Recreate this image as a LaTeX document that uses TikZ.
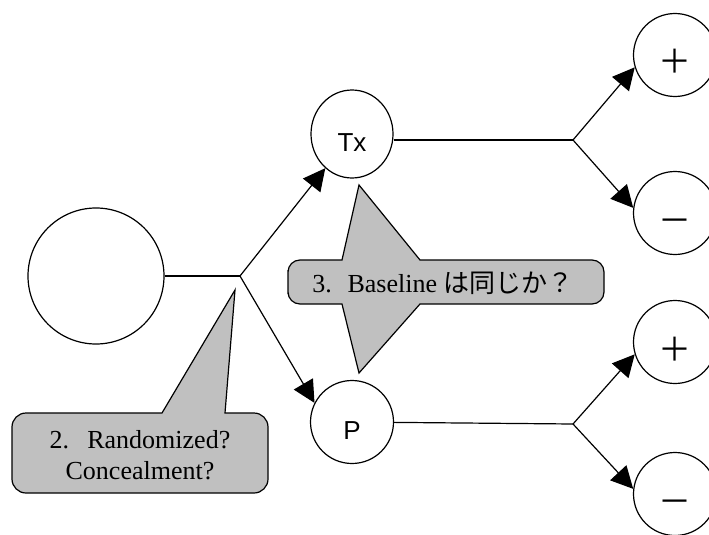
\documentclass[tikz,border=0pt]{standalone}
\usepackage{fontspec}
\setmainfont{Liberation Serif}
\setsansfont{Liberation Sans}
\newfontfamily\jpfont{Noto Sans CJK JP}
\usetikzlibrary{arrows.meta,positioning,calc,shapes.geometric}
\definecolor{calloutgray}{RGB}{192,192,192}

\begin{document}
\begin{tikzpicture}[->,>={Triangle[length=22pt,width=22pt]},x=1pt,y=-1pt,
			line width=1.2pt]
			\tikzstyle{chance}=[circle,draw=black,fill=white,inner sep=0pt,minimum size=83pt,text height=34pt,text depth=0pt,font=\sffamily\fontsize{26}{30}\selectfont]
			\tikzstyle{outcome}=[chance,text height=38pt,font=\jpfont\fontsize{33}{36}\selectfont]
			\tikzstyle{bubble}=[-,draw=black,fill=calloutgray]
			\tikzstyle{bubbletext}=[align=center,font=\rmfamily\fontsize{26}{31}\selectfont]
			
			\useasboundingbox (0,0) rectangle (709,535);
			
			\node[chance, minimum size=136pt]    (root)  at (96,276)   {};
			
			\coordinate (b0) at (240,276);
			
			\node[chance, ellipse, minimum width=82pt, minimum height=88pt]    (Tx)     at (352,134)   {Tx};
			
			\node[chance]    (P)      at (352,422)   {P};
			
			\coordinate (b1) at (573,140);
			
			\coordinate (b2) at (573,424);
			
			\node[outcome]    (TxPos)  at (675,55)    {＋};
			
			\node[outcome]    (TxNeg)  at (675,213)   {－};
			
			\node[outcome]    (PPos)   at (675,342)   {＋};
			
			\node[outcome]    (PNeg)   at (675,494)   {－};
			
			\path[-]
			
			(root) edge (b0)
			
			(b1 -| Tx.east) edge (b1)
			
			(P) edge (b2);
			
			\path
			
			(b0) edge (Tx.232)
			
			(b0) edge (P.153)
			
			(b1) edge (TxPos.197)
			
			(b1) edge (TxNeg.173)
			
			(b2) edge (PPos.197)
			
			(b2) edge (PNeg.173);
			
			% callouts
			\filldraw[bubble] (12,453) [rounded corners=14pt] -- (12,413) [sharp corners] -- (162,413) -- (235,290) -- (225,413) [rounded corners=14pt] -- (268,413) -- (268,493) -- (12,493) -- (12,453) -- cycle;
			
			\filldraw[bubble] (288,282) [rounded corners=12pt] -- (288,260) [sharp corners] -- (342,260) -- (359,185) -- (420,260) [rounded corners=12pt] -- (604,260) -- (604,304) [sharp corners] -- (420,304) -- (359,373) -- (342,304) [rounded corners=12pt] -- (288,304) -- (288,282) -- cycle;
			
			\node[bubbletext]    (q2)  at (140,455)   {2.\hspace{0.7em}Randomized?\\Concealment?};
			
			\node[bubbletext]    (q3)  at (443,283)   {3.\hspace{0.6em}Baseline {\jpfont は同じか？}};
			
\end{tikzpicture}
\end{document}
